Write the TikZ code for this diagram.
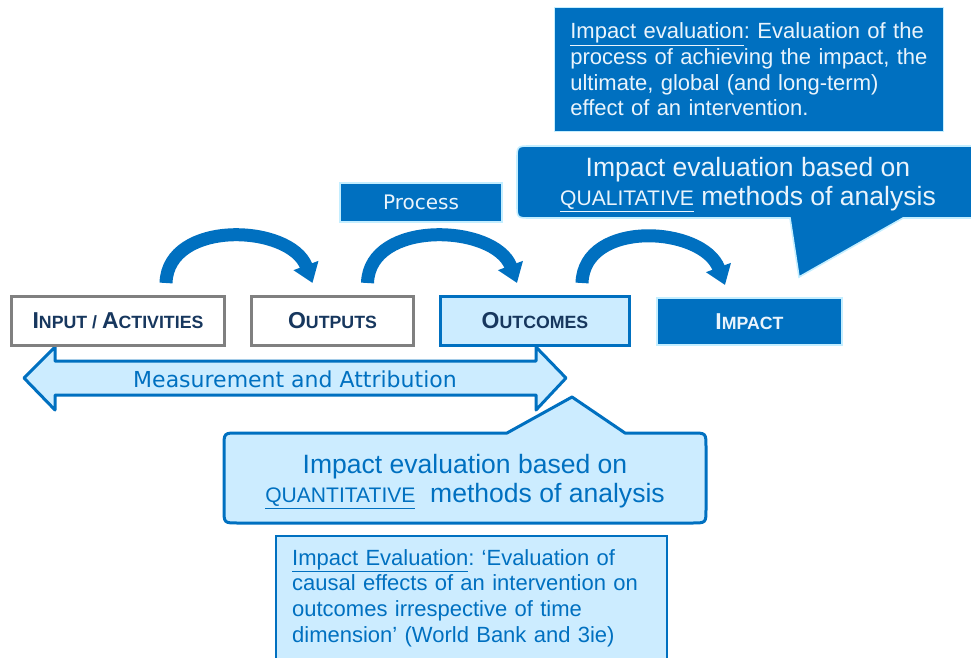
\documentclass[tikz,border=0pt]{standalone}
\usepackage{fontspec}
\setmainfont{Liberation Sans}
\newfontfamily\verdanalike{DejaVu Sans}
\usetikzlibrary{arrows.meta, positioning}
\definecolor{mainblue}{HTML}{0070C0}
\definecolor{paleblue}{HTML}{CCECFF}
\definecolor{glow}{HTML}{C4EEFF}
\definecolor{navy}{HTML}{17375E}
\definecolor{boxgray}{HTML}{808080}
\definecolor{paletext}{HTML}{EAF4FC}
\frenchspacing
\newcommand\capfirst[2]{{\fontsize{17.25}{20}\selectfont #1}{\fontsize{13.3}{16}\selectfont #2}}
\newcommand\method[1]{{\fontsize{15.8}{18}\selectfont\underline{#1}}}
\tikzset{stage/.style={draw=boxgray, line width=2.25pt, fill=white, minimum width=#1, minimum height=36.75pt, inner sep=0pt, font=\bfseries, text=navy},
         outcome/.style={stage=#1, draw=mainblue, fill=paleblue},
         impactbox/.style={stage=#1, draw=glow, line width=1.5pt, fill=mainblue, text=paletext, minimum height=35.25pt},
         darkbox/.style={draw=glow, line width=1.2pt, fill=mainblue, text=paletext},
         flow/.style={draw=mainblue, line width=9.75pt, -{Triangle[length=14pt,width=19pt]}},
         measure/.style={draw=mainblue, line width=2.25pt, fill=paleblue, line join=round},
         bigtext/.style={font=\fontsize{19.9}{21.75}\selectfont, align=center},
         deftext/.style={font=\fontsize{16.5}{19.2}\selectfont, align=left},
        }
\begin{document}
\begin{tikzpicture}[x=0.75pt,y=-0.75pt]
        \useasboundingbox[fill=white](0,0)rectangle(971,657);

        \draw[measure](24,378)--(55,347)--(55,361)--(536,361)--(536,347)--(566,378)--(536,410)--(536,395)--(55,395)--(55,410)--cycle;
        \node[font=\verdanalike\fontsize{16.5}{19}\selectfont, text=mainblue](meas)at(295,379){Measurement and Attribution};

        \node[stage=159.75pt](input)at(118,321){\capfirst{I}{NPUT / }\capfirst{A}{CTIVITIES}};
        \node[stage=121.5pt](outputs)at(332.5,321){\capfirst{O}{UTPUTS}};
        \node[outcome=141.75pt](outcomes)at(535,321){\capfirst{O}{UTCOMES}};
        \node[impactbox=139pt](impact)at(749.5,321.5){\capfirst{I}{MPACT}};

        \draw[flow]([shift={(48,-12)}]input.north) .. controls +(2,-64) and +(-22,-59) .. ([shift={(-20,-12)}]outputs.north);
        \draw[flow]([shift={(35,-12)}]outputs.north) .. controls +(2,-64) and +(-22,-59) .. ([shift={(-18,-12)}]outcomes.north);
        \draw[flow]([shift={(47,-12)}]outcomes.north) .. controls +(2,-64) and +(-22,-59) .. ([shift={(-24.5,-12)}]impact.north);

        \node[darkbox, minimum width=121.5pt, minimum height=29pt, font=\verdanalike\fontsize{15}{18}\selectfont](process)at(421,202.5){Process};

        \node[darkbox, deftext, minimum width=292pt, minimum height=93pt, text width=268pt, inner xsep=12pt](topdef)at(749,69.5)
            {\underline{Impact evaluation}: Evaluation of the\\process of achieving the impact, the\\ultimate, global (and long-term)\\effect of an intervention.};

        \fill[mainblue, draw=glow, line width=1.2pt](531,146) .. controls (517,146) .. (517,160)--(517,204) .. controls (517,218) .. (531,218)
            --(790,218)--(799,277)--(903,218)--(980,218)--(980,146)--cycle;
        \node[bigtext, text=paletext](qual)at(748,185){Impact evaluation based on\\\method{QUALITATIVE} methods of analysis};

        \draw[measure](507,433)--(572,397)--(625,433)--(692,433) .. controls (706,433) .. (706,447)--(706,509) .. controls (706,523) .. (692,523)
            --(238,523) .. controls (224,523) .. (224,509)--(224,447) .. controls (224,433) .. (238,433)--cycle;
        \node[bigtext, text=mainblue](quant)at(465,481.5){Impact evaluation based on\\\method{QUANTITATIVE}\ \ methods of analysis};

        \draw[draw=mainblue, line width=1.5pt, fill=paleblue](276,536)rectangle(667,675);
        \node[deftext, text=mainblue, text width=269pt](botdef)at(471.5,598)
            {\underline{Impact Evaluation}: ‘Evaluation of\\causal effects of an intervention on\\outcomes irrespective of time\\dimension’ (World Bank and 3ie)};
    \end{tikzpicture}
\end{document}
